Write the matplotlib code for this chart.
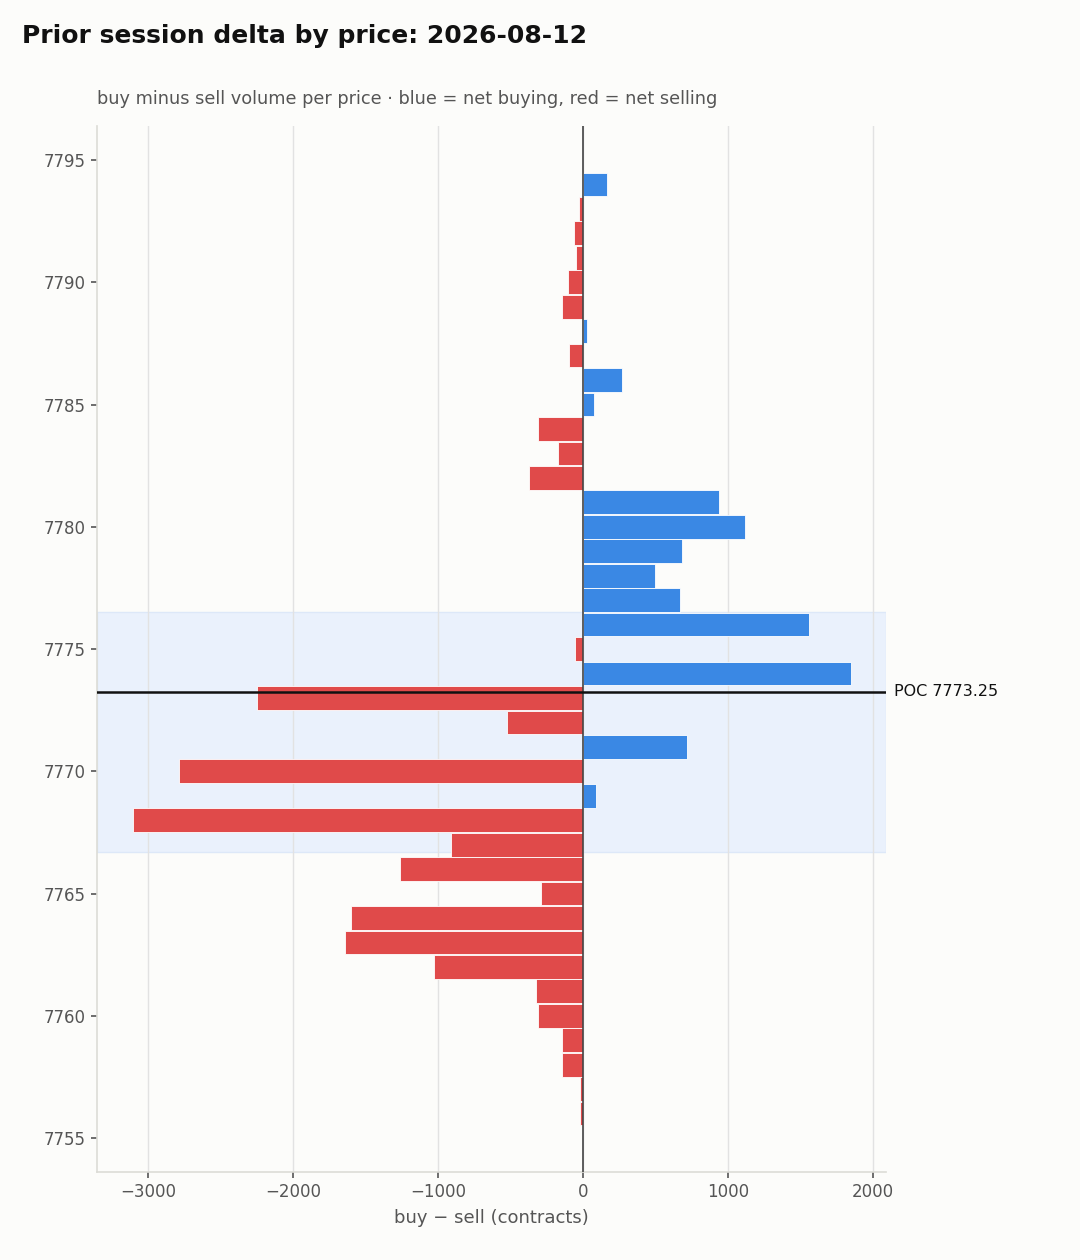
import matplotlib
matplotlib.use("Agg")
import matplotlib.pyplot as plt
import matplotlib.transforms as mtransforms
import numpy as np

plt.rcParams["font.family"] = ["DejaVu Sans"]

# price levels (top to bottom) and net delta per level
prices = list(range(7794, 7755, -1))
deltas = [
    166, -25, -60, -45, -100, -145, 25, -95, 270, 75,
    -310, -170, -370, 940, 1120, 685, 500, 670, 1560, -55,
    1850, -2250, -525, 715, -2785, 90, -3105, -910, -1260, -290,
    -1600, -1640, -1030, -325, -310, -145, -145, -20, -20,
]
poc_price = 7773.25
value_area = (7766.7, 7776.5)
session_date = "2026-08-12"

BG = "#fcfcfa"
BLUE = "#3a88e4"
RED = "#e04a4a"

fig = plt.figure(figsize=(10.8, 12.6), dpi=100, facecolor=BG)
ax = fig.add_axes([0.0898, 0.0698, 0.7306, 0.8302], facecolor=BG)

p = np.array(prices)
d = np.array(deltas)
colors = [BLUE if v >= 0 else RED for v in d]

ax.axhspan(value_area[0], value_area[1], color="#eaf1fc", ec="#dde8f8", lw=1, zorder=0)
ax.barh(p, d, height=0.97, color=colors, edgecolor="white", linewidth=0.6, zorder=2)
ax.axvline(0, color="#444444", lw=1.2, zorder=3)
ax.axhline(poc_price, color="#111111", lw=1.8, zorder=4)

trans = mtransforms.blended_transform_factory(ax.transAxes, ax.transData)
ax.text(1.01, poc_price, f"POC {poc_price:.2f}", transform=trans, va="center",
        ha="left", fontsize=11.5, color="#111111")

ax.set_xlim(-3352, 2090)
ax.set_ylim(7753.61, 7796.39)
ax.set_xticks([-3000, -2000, -1000, 0, 1000, 2000])
ax.set_yticks([7755, 7760, 7765, 7770, 7775, 7780, 7785, 7790, 7795])
ax.grid(axis="x", color="#e2e2e2", lw=1, zorder=0)
ax.set_axisbelow(True)

for side in ("top", "right"):
    ax.spines[side].set_visible(False)
for side in ("left", "bottom"):
    ax.spines[side].set_color("#dcdcd6")
    ax.spines[side].set_linewidth(1.2)

ax.tick_params(axis="both", labelsize=12, labelcolor="#555555", color="#555555",
               length=4.5, width=1.2)
ax.set_xlabel("buy \u2212 sell (contracts)", fontsize=13, color="#555555", labelpad=6)

fig.text(0.0204, 0.9714, f"Prior session delta by price: {session_date}",
         fontsize=18, fontweight="bold", va="center", ha="left", color="#111111")
fig.text(0.0898, 0.9214, "buy minus sell volume per price \u00b7 blue = net buying, red = net selling",
         fontsize=12.8, va="center", ha="left", color="#555555")

fig.savefig("out.png", dpi=100, facecolor=BG)
